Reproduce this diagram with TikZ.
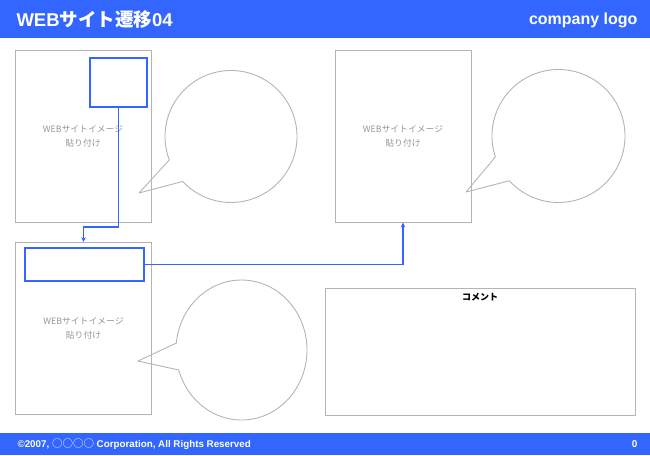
\documentclass[tikz,border=0pt]{standalone}
\usepackage{fontspec}
\setmainfont{Liberation Sans}
\newfontfamily\jpfont{Noto Sans CJK JP}
\usetikzlibrary{arrows.meta, positioning}
\definecolor{barblue}{RGB}{51, 102, 255}
\definecolor{framegray}{RGB}{180, 180, 180}
\definecolor{textgray}{RGB}{150, 150, 150}

\begin{document}
\begin{tikzpicture}[x=1pt, y=-1pt,
  page/.style={draw=framegray, line width=0.9pt, minimum width=136pt, minimum height=172pt,
    inner sep=0pt, align=center, text=textgray, font=\jpfont\fontsize{8.8}{14}\selectfont},
  hotspot/.style={draw=barblue, line width=2pt, inner sep=0pt},
  link/.style={draw=barblue, line width=1.8pt, -{Stealth[length=5pt, width=4.5pt]}},
  bubble/.style={draw=framegray, line width=0.9pt, line join=round},
]
  \useasboundingbox (0,0) rectangle (650,455);

  % Header and footer bars
  \fill[barblue] (0,0) rectangle (650,38);
  \node[anchor=west, text=white, font=\bfseries\fontsize{18.5}{18.5}\selectfont] (title) at (13,20) {WEB{\jpfont サイト遷移}04};
  \node[anchor=east, text=white, font=\bfseries\fontsize{16}{16}\selectfont] (logo) at (641,20) {company logo};
  \fill[barblue] (0,433) rectangle (650,455);
  \node[anchor=west, text=white, font=\bfseries\fontsize{9.8}{10}\selectfont] (copyright) at (14,444) {©2007, {\jpfont\mdseries\fontsize{10.5}{11}\selectfont ○○○○} Corporation, All Rights Reserved};
  \node[anchor=east, text=white, font=\bfseries\fontsize{10}{10}\selectfont] (pageno) at (641,444) {0};

  % Site images
  \node[page] (page1) at (83,136) {WEBサイトイメージ\\貼り付け};
  \node[page] (page2) at (83.5,328.5) {WEBサイトイメージ\\貼り付け};
  \node[page] (page3) at (403,136) {WEBサイトイメージ\\貼り付け};

  % Link areas
  \node[hotspot, minimum width=57pt, minimum height=49pt] (hot1) at (118.5,82.5) {};
  \node[hotspot, minimum width=119pt, minimum height=33pt] (hot2) at (84.5,264.5) {};

  % Speech bubbles
  \draw[bubble] (231,136.5) ++(159.2:66) arc[start angle=159.2, end angle=497.1, radius=66] -- (139,193) -- cycle;
  \draw[bubble] (558.5,136) ++(161.7:66.5) arc[start angle=161.7, end angle=497.7, radius=66.5] -- (466,192) -- cycle;
  \draw[bubble] (241.5,350) ++(185.7:65.5 and 70) arc[start angle=185.7, end angle=523.4, x radius=65.5, y radius=70] -- (138,361) -- cycle;

  % Comment
  \node[draw=framegray, line width=0.9pt, minimum width=310pt, minimum height=127pt, inner sep=0pt] (comment) at (480,351.5) {};
  \node[below=2.5pt of comment.north, font=\jpfont\bfseries\fontsize{9}{9}\selectfont] (commenttitle) {コメント};

  % Transitions
  \coordinate (bend1) at (83.5,227);
  \draw[link] (hot1.south) |- (bend1) -- (page2.north);
  \draw[link] (hot2.east) -| (page3.south);

\end{tikzpicture}
\end{document}
